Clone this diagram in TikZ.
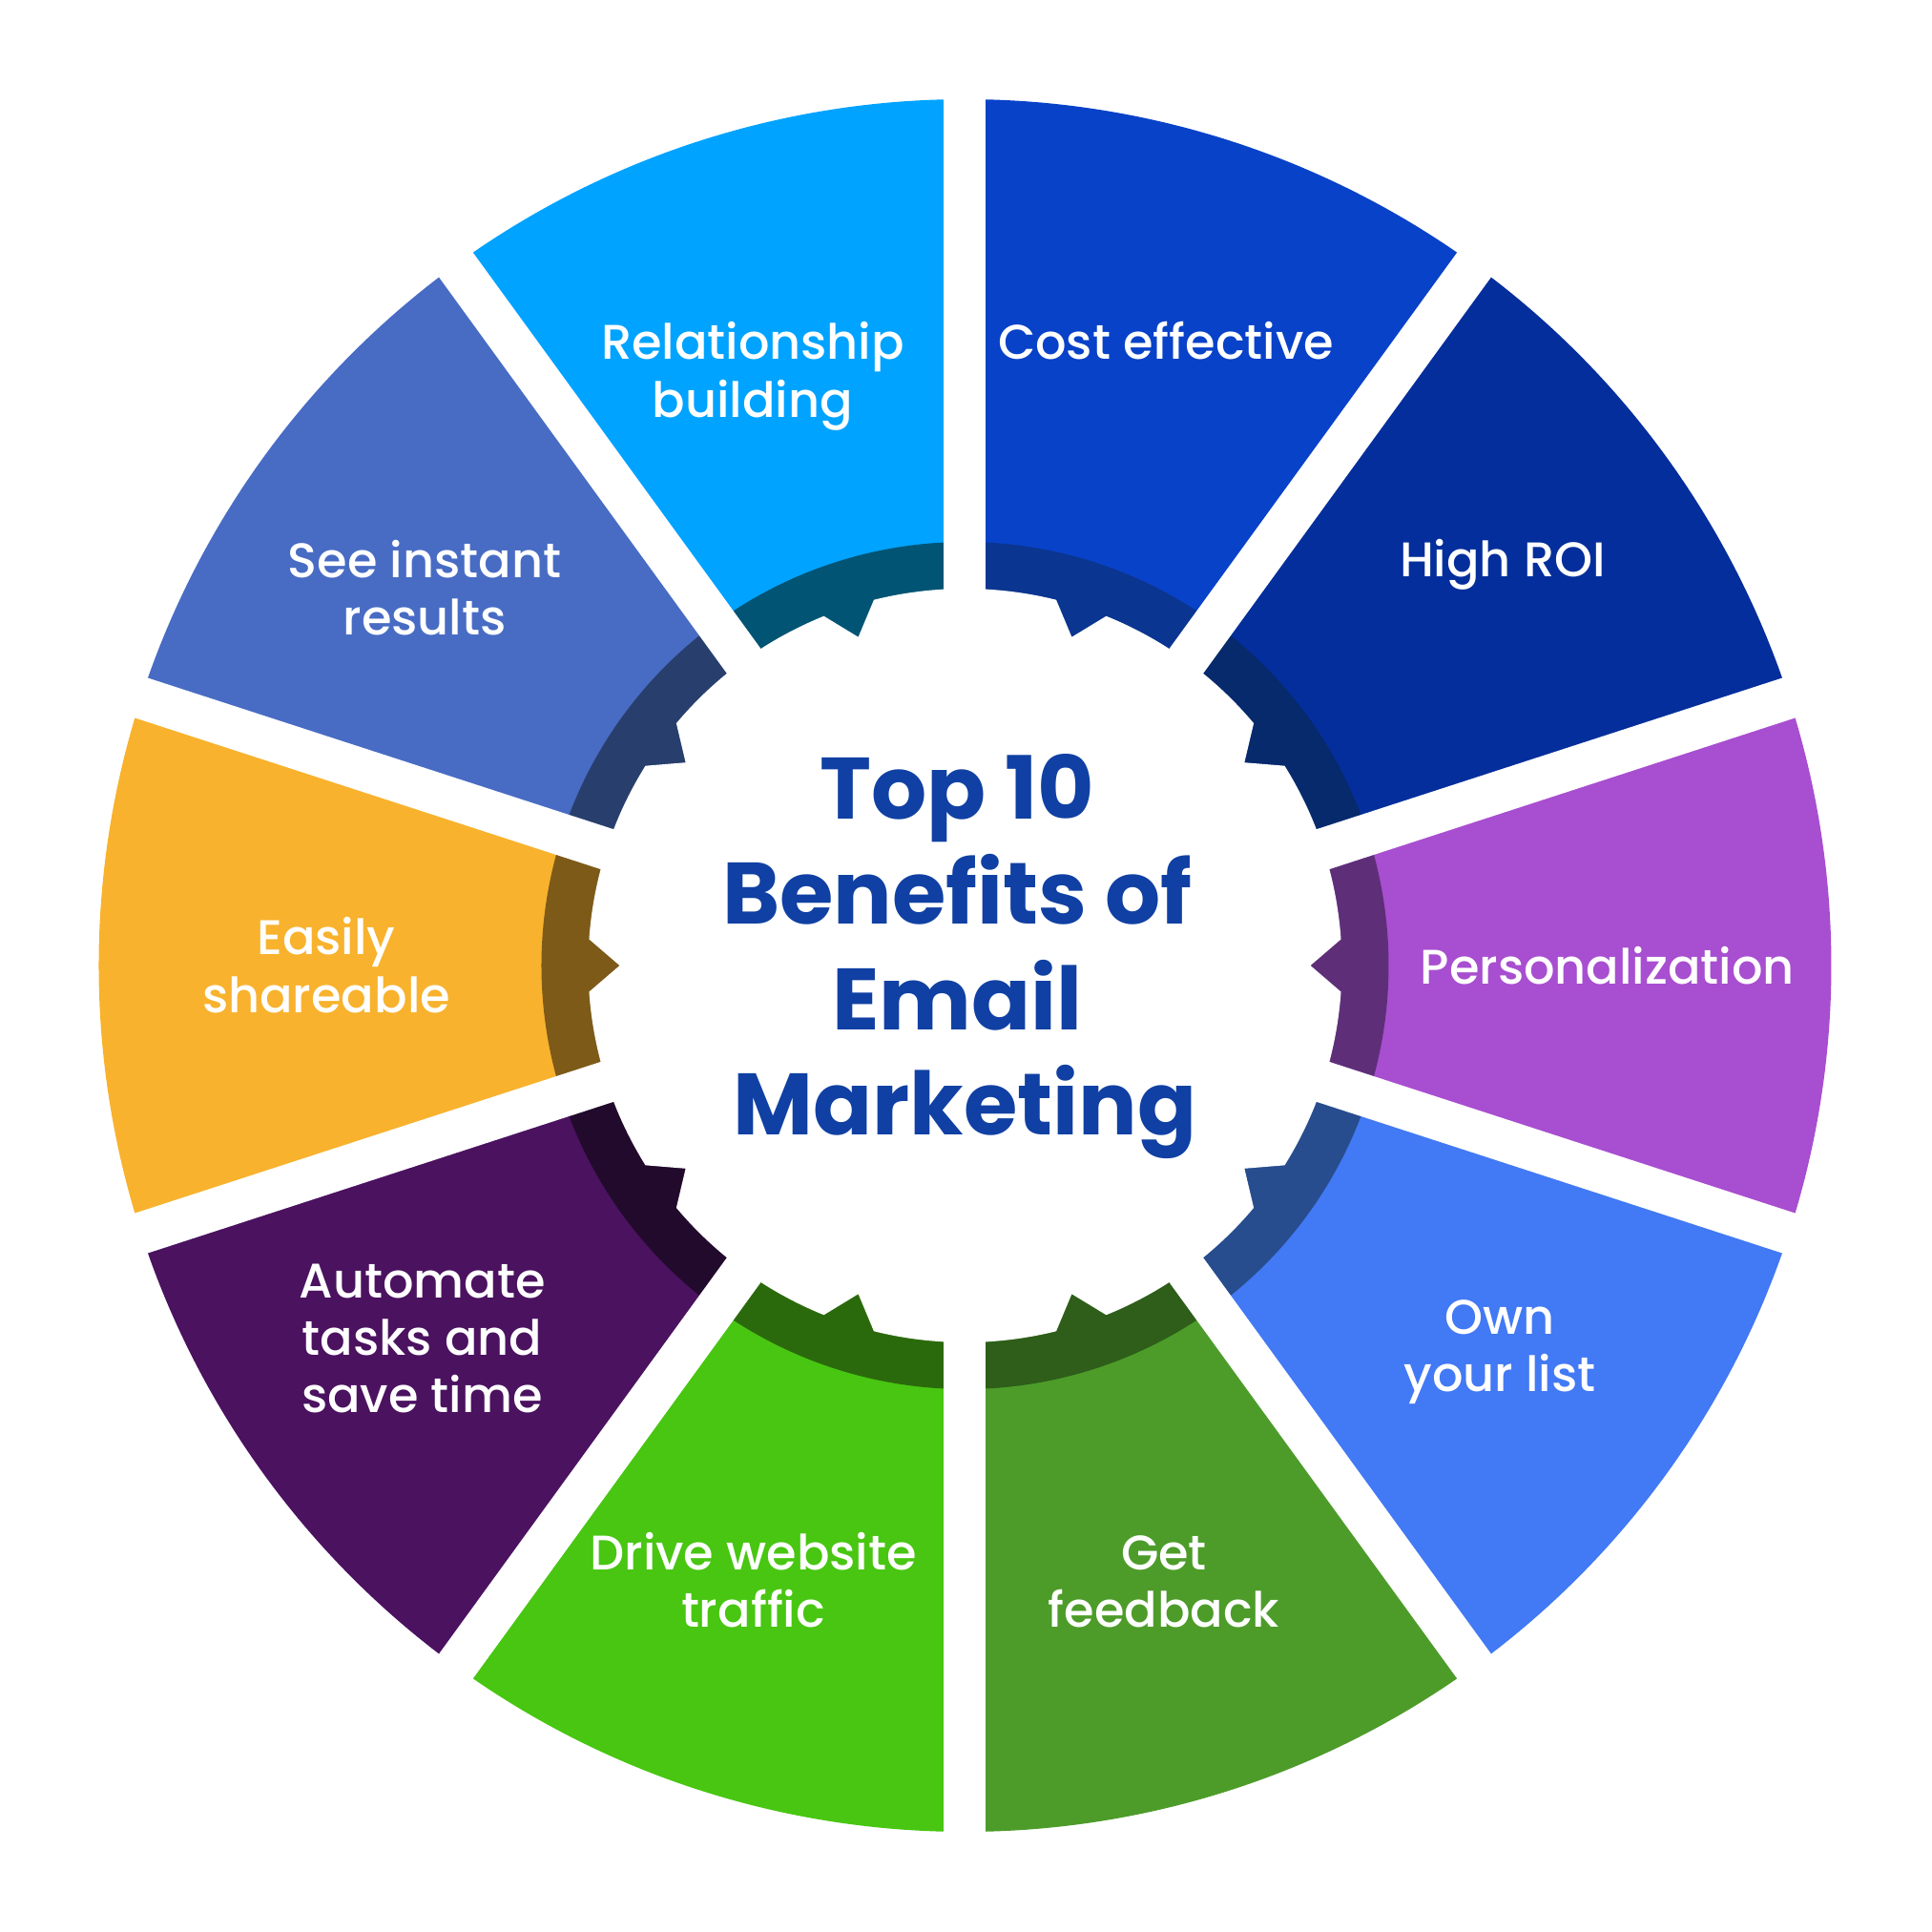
\documentclass[tikz,border=0pt]{standalone}
\usepackage{fontspec}
\IfFontExistsTF{Poppins Medium}{\newfontfamily\lblfont{Poppins Medium}}{%
  \IfFontExistsTF{Poppins-Medium}{\newfontfamily\lblfont{Poppins-Medium}}{%
    \newfontfamily\lblfont{Poppins}[FakeBold=0.6]}}
\newfontfamily\ttlfont{Poppins}
\setmainfont{Poppins}
\definecolor{pzL}{HTML}{A84ED0}\definecolor{pzD}{HTML}{5E2F78}
\definecolor{hrL}{HTML}{042E9B}\definecolor{hrD}{HTML}{062A6C}
\definecolor{ceL}{HTML}{0842C8}\definecolor{ceD}{HTML}{0A3590}
\definecolor{rbL}{HTML}{00A3FF}\definecolor{rbD}{HTML}{025474}
\definecolor{siL}{HTML}{486CC4}\definecolor{siD}{HTML}{283F6E}
\definecolor{esL}{HTML}{F8B22D}\definecolor{esD}{HTML}{7D5A18}
\definecolor{atL}{HTML}{4B1260}\definecolor{atD}{HTML}{220A2D}
\definecolor{dwL}{HTML}{48C612}\definecolor{dwD}{HTML}{2B6A0C}
\definecolor{gfL}{HTML}{4D9C2A}\definecolor{gfD}{HTML}{2E5E19}
\definecolor{owL}{HTML}{4279F4}\definecolor{owD}{HTML}{284D8E}
\definecolor{ttl}{HTML}{1040A3}
\tikzset{
  lbl/.style={anchor=base, text=white, inner sep=0pt, font=\lblfont\fontsize{14.5}{17.4}\selectfont},
  ttlline/.style={anchor=base, text=ttl, inner sep=0pt, font=\ttlfont\bfseries\fontsize{26}{31}\selectfont},
  gapline/.style={draw=white, line width=0.44cm}
}
\begin{document}
\begin{tikzpicture}
\useasboundingbox (-10.115,-10.13) rectangle (10.135,10.12);
\def\segs{0/pzL/pzD,36/hrL/hrD,72/ceL/ceD,108/rbL/rbD,144/siL/siD,180/esL/esD,216/atL/atD,252/dwL/dwD,288/gfL/gfD,324/owL/owD}
\foreach \a/\cl/\cd in \segs {
  \fill[\cl] (0,0) -- ({\a-18}:9.08) arc[start angle={\a-18}, end angle={\a+18}, radius=9.08] -- cycle;
  \fill[\cd] (0,0) -- ({\a-18}:4.44) arc[start angle={\a-18}, end angle={\a+18}, radius=4.44] -- cycle;
}
% white gear with inward notches (teeth show the dark ring)
\fill[white] (-4:3.95) -- (0:3.62) -- (4:3.95)
  foreach \a in {36,72,...,324} {
    arc[start angle={\a-32}, end angle={\a-4}, radius=3.95] -- (\a:3.62) -- ({\a+4}:3.95)
  }
  arc[start angle=328, end angle=356, radius=3.95] -- cycle;
\foreach \g in {18,54,...,342} {
  \draw[gapline] (0,0) -- (\g:9.4);
}
% title
\node[ttlline] (t1) at (-0.08,1.535) {Top 10};
\node[ttlline] (t2) at (-0.08,0.432) {Benefits of};
\node[ttlline] (t3) at (-0.08,-0.671) {Email};
\node[ttlline] (t4) at (0.0,-1.774) {Marketing};
% labels
\node[lbl] (rb1) at (-2.225,6.36) {Relationship};
\node[lbl] (rb2) at (-2.225,5.75) {building};
\node[lbl] (ce1) at (2.105,6.357) {Cost effective};
\node[lbl] (hr1) at (5.635,4.073) {High ROI};
\node[lbl] (si1) at (-5.665,4.07) {See instant};
\node[lbl] (si2) at (-5.665,3.47) {results};
\node[lbl] (pz1) at (6.733,-0.192) {Personalization};
\node[lbl] (es1) at (-6.695,0.12) {Easily};
\node[lbl] (es2) at (-6.695,-0.49) {shareable};
\node[lbl] (at1) at (-5.69,-3.48) {Automate};
\node[lbl] (at2) at (-5.69,-4.08) {tasks and};
\node[lbl] (at3) at (-5.69,-4.68) {save time};
\node[lbl] (dw1) at (-2.22,-6.33) {Drive website};
\node[lbl] (dw2) at (-2.22,-6.93) {traffic};
\node[lbl] (gf1) at (2.085,-6.33) {Get};
\node[lbl] (gf2) at (2.085,-6.93) {feedback};
\node[lbl] (ow1) at (5.605,-3.863) {Own};
\node[lbl] (ow2) at (5.605,-4.463) {your list};
\end{tikzpicture}
\end{document}
